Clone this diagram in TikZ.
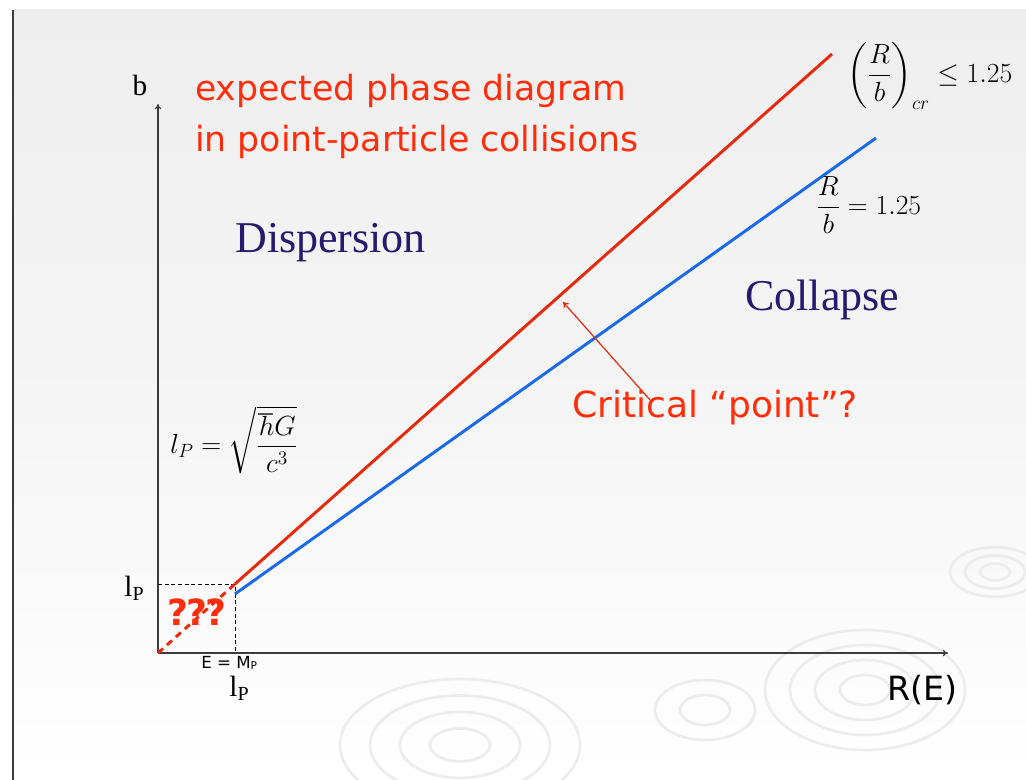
\documentclass[tikz,border=0pt]{standalone}
\usepackage{amsmath}
\usepackage{fontspec}
\setmainfont{Liberation Serif}
\newfontfamily\comic{DejaVu Sans}
\usetikzlibrary{arrows.meta}
\definecolor{bgc}{RGB}{238,238,238}
\definecolor{redtxt}{RGB}{255,45,10}
\definecolor{redln}{RGB}{232,40,10}
\definecolor{blueln}{RGB}{25,105,238}
\definecolor{navy}{RGB}{40,25,110}
\definecolor{axisc}{RGB}{60,60,60}
\definecolor{ripple}{RGB}{236,236,236}
\tikzset{
  axisline/.style={draw=axisc, line width=0.9pt, -{To[length=4pt,width=5pt]}},
  redline/.style={draw=redln, line width=2.2pt},
  blueline/.style={draw=blueln, line width=2.2pt},
  guide/.style={draw=black, line width=0.7pt, dash pattern=on 3pt off 2pt},
  comictxt/.style={inner sep=0pt, text=redtxt, font=\comic\fontsize{26}{30}\selectfont},
  region/.style={inner sep=0pt, text=navy, font=\fontsize{33}{38}\selectfont},
  axislbl/.style={inner sep=0pt, font=\fontsize{22}{26}\selectfont},
  ripplering/.style={draw=ripple, line width=2pt}
}
\begin{document}
\begin{tikzpicture}[x=0.75pt,y=-0.75pt]
\useasboundingbox (0,0) rectangle (1026,780);
% background
\fill[white] (0,0) rectangle (1026,780);
\shade[top color=bgc, bottom color=white, middle color=bgc!60!white] (13,10) rectangle (1026,780);
\draw[axisc, line width=1.6pt] (13,10) -- (13,780);
% faint ripples
\foreach \r in {15,30,45} {\draw[ripplering] (995,572) ellipse ({\r*1.0} and {\r*0.55});}
\foreach \r in {25,50,75,100} {\draw[ripplering] (865,690) ellipse ({\r*1.0} and {\r*0.6});}
\foreach \r in {30,60,90,120} {\draw[ripplering] (460,745) ellipse ({\r*1.0} and {\r*0.55});}
\foreach \r in {25,50} {\draw[ripplering] (705,710) ellipse ({\r*1.0} and {\r*0.6});}

% key points
\coordinate (O) at (158,653);
\coordinate (ytip) at (158,104);
\coordinate (xtip) at (948,653);
\coordinate (P) at (235,584);
\coordinate (Pb) at (235,594);
\coordinate (Px) at (235,653);
\coordinate (Py) at (158,584);
\coordinate (rtop) at (832,54);
\coordinate (btop) at (876,138);
\coordinate (critfrom) at (650,400);
\coordinate (critto) at (563,302);

% axes
\draw[axisline] (O) -- (ytip);
\draw[axisline] (O) -- (xtip);
% guides
\draw[guide] (Py) -- (P) -- (Px);
% lines
\draw[redline, dash pattern=on 5pt off 4pt] (O) -- (P);
\draw[redline] (P) -- (rtop);
\draw[blueline] (Pb) -- (btop);
% arrow to critical point
\draw[draw=redln, line width=0.9pt, -{To[length=4pt,width=5pt]}] (critfrom) -- (critto);

% labels
\node[axislbl, anchor=base] (blbl) at (140,96) {b};
\node[axislbl, anchor=base east] (lpy) at (144,597) {l\raisebox{-0.25ex}{\fontsize{15}{17}\selectfont P}};
\node[axislbl, anchor=base] (lpx) at (239,697) {l\raisebox{-0.25ex}{\fontsize{15}{17}\selectfont P}};
\node[inner sep=0pt, anchor=base west, font=\comic\fontsize{12.5}{14}\selectfont] (emp) at (201,669) {E = M\raisebox{-0.1ex}{\fontsize{8}{9}\selectfont P}};
\node[inner sep=0pt, anchor=base west, text=redtxt, font=\comic\bfseries\fontsize{27}{30}\selectfont] (qqq) at (167,626) {?\kern-1.5pt?\kern-1.5pt?};
\node[inner sep=0pt, anchor=base west, font=\comic\fontsize{25}{30}\selectfont] (re) at (887,701) {R(E)};

\node[comictxt, anchor=base west] (title1) at (195,101) {expected phase diagram};
\node[comictxt, anchor=base west] (title2) at (195,152) {in point-particle collisions};
\node[comictxt, anchor=base west, font=\comic\fontsize{27}{30}\selectfont] (crit) at (572,418) {Critical “point”?};

\node[region, anchor=base west] (disp) at (235,253) {Dispersion};
\node[region, anchor=base west] (coll) at (745,311) {Collapse};

\node[inner sep=0pt, anchor=west, font=\fontsize{22.5}{27}\selectfont] (fcr) at (847,76) {$\displaystyle \left(\frac{R}{b}\right)_{cr}\le 1.25$};
\node[inner sep=0pt, anchor=west, font=\fontsize{20}{24}\selectfont] (feq) at (816,205) {$\displaystyle \frac{R}{b}=1.25$};
\node[inner sep=0pt, anchor=west, font=\fontsize{21.5}{26}\selectfont] (flp) at (170,440) {$\displaystyle l_P=\sqrt{\frac{\hbar G}{c^3}}$};
\end{tikzpicture}
\end{document}
